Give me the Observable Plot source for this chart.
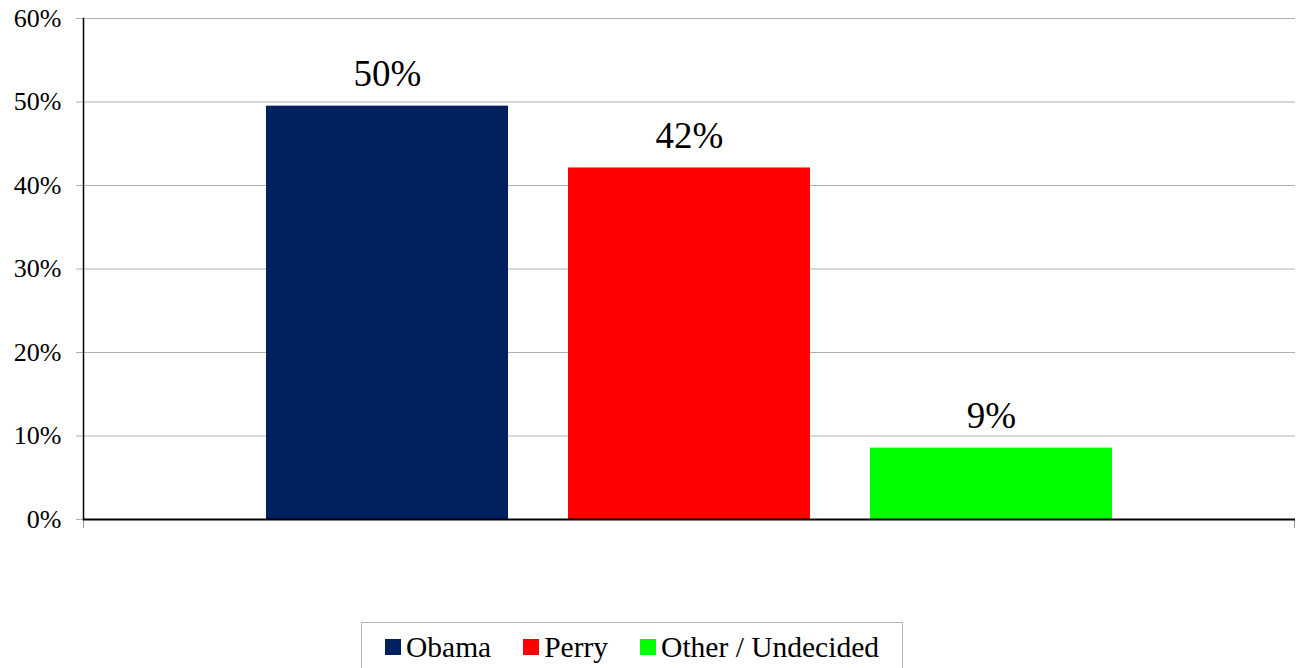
<!DOCTYPE html>
<html>
<head>
<meta charset="utf-8">
<script src="https://cdn.jsdelivr.net/npm/d3@7"></script>
<script src="https://cdn.jsdelivr.net/npm/@observablehq/plot@0.6"></script>
<style>
  html, body { margin: 0; padding: 0; background: #fff; }
  #chart { position: absolute; left: 0; top: 0; }
  #legend {
    position: absolute; left: 361px; top: 622px; width: 542px; height: 50px;
    border: 1px solid #b3b3b3; box-sizing: border-box;
    display: flex; align-items: center; justify-content: center;
    font-family: "Liberation Serif", "Times New Roman", serif; font-size: 29.5px; color: #000;
  }
  .item { display: flex; align-items: center; margin: 0 16px; }
  .sw { width: 16px; height: 16px; margin-right: 5px; }
</style>
</head>
<body>
<div id="chart"></div>
<div id="legend"></div>
<script>
const categories = ["Obama", "Perry", "Other / Undecided"];
const values = [49.5, 42.1, 8.55];
const labels = ["50%", "42%", "9%"];
const colors = ["#002060", "#FF0000", "#00FF00"];
const yTicks = [0, 10, 20, 30, 40, 50, 60];

const data = categories.map((c, i) => ({name: c, value: values[i], label: labels[i]}));
const serif = "Liberation Serif, Times New Roman, serif";

const chart = Plot.plot({
  width: 1299,
  height: 560,
  marginLeft: 83,
  marginRight: 4,
  marginTop: 18,
  marginBottom: 41,
  x: {domain: categories, range: [235, 1143], paddingInner: 0.198, paddingOuter: 0.099, axis: null},
  y: {domain: [0, 60]},
  color: {domain: categories, range: colors},
  marks: [
    Plot.ruleY(yTicks.slice(1), {stroke: "#b0b0b0", strokeWidth: 1}),
    Plot.axisY({ticks: yTicks, tickSize: 7, tickPadding: 15, tickFormat: d => d + "%", fontSize: 26, fontFamily: serif, stroke: "#b0b0b0", color: "#000", label: null}),
    Plot.barY(data, {x: "name", y: "value", fill: "name"}),
    Plot.text(data, {x: "name", y: "value", text: "label", lineAnchor: "bottom", dy: -20, fontSize: 37, fontFamily: serif, fill: "#000"}),
    Plot.frame({anchor: "left", stroke: "#000", strokeWidth: 1.5}),
    Plot.frame({anchor: "left", stroke: "#999", insetTop: 501, insetBottom: -8}),
    Plot.frame({anchor: "right", stroke: "#999", insetTop: 501, insetBottom: -8, insetRight: 1}),
    Plot.ruleY([0], {stroke: "#000", strokeWidth: 2})
  ]
});
chart.querySelectorAll("[aria-label='y-axis tick label'] text").forEach(t => t.setAttribute("fill", "#000"));
document.getElementById("chart").appendChild(chart);

const legend = document.getElementById("legend");
categories.forEach((c, i) => {
  const item = document.createElement("div");
  item.className = "item";
  const sw = document.createElement("div");
  sw.className = "sw";
  sw.style.background = colors[i];
  const lab = document.createElement("span");
  lab.textContent = c;
  item.appendChild(sw);
  item.appendChild(lab);
  legend.appendChild(item);
});
</script>
</body>
</html>
